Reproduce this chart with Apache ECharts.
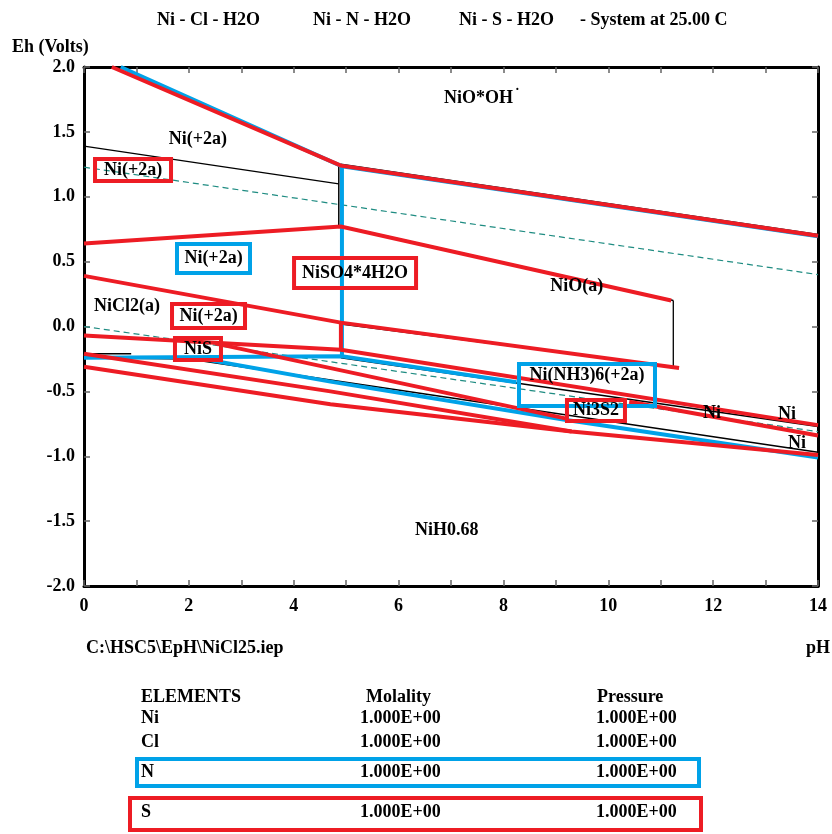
<!DOCTYPE html>
<html><head><meta charset="utf-8">
<script src="https://cdn.jsdelivr.net/npm/echarts/dist/echarts.min.js"></script>
<style>html,body{margin:0;padding:0;background:#fff}#c{width:832px;height:834px}</style>
</head><body><div id="c"></div>
<script>
// ---------- data (pH, Eh in volts) ----------
const xTickValues = [0, 2, 4, 6, 8, 10, 12, 14];
const yTickValues = [-2.0, -1.5, -1.0, -0.5, 0.0, 0.5, 1.0, 1.5, 2.0];

// Ni-S-H2O boundaries (red)
const sLine1 = [[0.53, 2.0], [4.9, 1.24], [14, 0.70]];
const sLine2 = [[0, 0.64], [4.9, 0.77], [11.2, 0.20]];
const sLine3 = [[0, 0.39], [4.9, 0.03], [11.35, -0.32]];
const sLine4 = [[4.9, 0.03], [4.9, -0.18]];
const sLine5 = [[0, -0.07], [4.9, -0.18], [14, -0.76]];
const sLine6 = [[2.5, -0.13], [9.2, -0.71]];
const sLine7 = [[10.4, -0.58], [14, -0.84]];
const sLine8 = [[0, -0.21], [4.7, -0.50], [9.3, -0.81], [14, -0.99]];
const sLine9 = [[0, -0.31], [4.7, -0.60], [9.3, -0.81]];

// Ni-N-H2O boundaries (blue)
const nLine1 = [[0.7, 2.0], [4.92, 1.235], [14, 0.695]];
const nLine2 = [[4.92, 1.235], [4.92, -0.23]];
const nLine3 = [[0, -0.24], [4.92, -0.23], [8.25, -0.43]];
const nLine4 = [[2.2, -0.245], [4.7, -0.425], [9.2, -0.72], [14, -1.01]];

// Ni-Cl-H2O boundaries (black)
const clLine1 = [[0, 1.39], [4.86, 1.10]];
const clLine2 = [[4.86, 1.24], [4.86, 0.77]];
const clLine3 = [[4.9, 1.25], [14, 0.71]];
const clLine4 = [[4.9, 0.775], [11.24, 0.20]];
const clLine5 = [[11.24, 0.20], [11.24, -0.31]];
const clLine6 = [[4.9, 0.02], [11.24, -0.31]];
const clLine7 = [[0, -0.21], [0.9, -0.21]];
const clLine8 = [[0, -0.24], [2.0, -0.25], [14, -0.97]];
const clLine9 = [[4.9, -0.24], [14, -0.77]];

// water stability lines (dashed)
const waterUpper = [[0, 1.228], [14, 0.40]];
const waterLower = [[0, 0.0], [14, -0.81]];

// region labels: [text, pH, Eh, frame]
const regionLabels = [
  ['NiO*OH{s|˙}', 7.59, 1.76, 'none'],
  ['Ni(+2a)', 2.17, 1.445, 'none'],
  ['Ni(+2a)', 0.935, 1.206, 'red'],
  ['Ni(+2a)', 2.47, 0.524, 'blue'],
  ['NiSO4*4H2O', 5.17, 0.412, 'red'],
  ['NiO(a)', 9.40, 0.312, 'none'],
  ['NiCl2(a)', 0.82, 0.158, 'none'],
  ['Ni(+2a)', 2.375, 0.081, 'red'],
  ['NiS', 2.174, -0.173, 'red'],
  ['Ni(NH3)6(+2a)', 9.594, -0.451, 'blue'],
  ['Ni3S2', 9.765, -0.647, 'red'],
  ['Ni', 11.98, -0.667, 'none'],
  ['Ni', 13.41, -0.674, 'none'],
  ['Ni', 13.60, -0.898, 'none'],
  ['NiH0.68', 6.92, -1.568, 'none']
];
const frameSizes = {
  'Ni(+2a)#2': [80, 26], 'Ni(+2a)#3': [77, 33], 'NiSO4*4H2O#4': [126, 34],
  'Ni(+2a)#7': [77, 28], 'NiS#8': [50, 26], 'Ni(NH3)6(+2a)#9': [140, 46], 'Ni3S2#10': [62, 25]
};

// title strings and table
const titleParts = ['Ni - Cl - H2O', 'Ni - N - H2O', 'Ni - S - H2O', '- System at 25.00 C'];
const yAxisTitle = 'Eh (Volts)';
const fileName = 'C:\\HSC5\\EpH\\NiCl25.iep';
const xAxisTitle = 'pH';
const tableHeader = ['ELEMENTS', 'Molality', 'Pressure'];
const tableElements = ['Ni', 'Cl', 'N', 'S'];
const tableMolality = ['1.000E+00', '1.000E+00', '1.000E+00', '1.000E+00'];
const tablePressure = ['1.000E+00', '1.000E+00', '1.000E+00', '1.000E+00'];

// ---------- styles ----------
const RED = '#ed1c24', BLUE = '#00a2e8', BLACK = '#000000', GREEN = '#1f8c82';
const FONT = '"Liberation Serif", "DejaVu Serif", serif';
const FS = 18;

function ln(data, color, width, dashed, z) {
  return {
    type: 'line', data: data, symbol: 'none', silent: true, animation: false, z: z,
    lineStyle: { color: color, width: width, type: dashed ? [6, 4] : 'solid', cap: 'butt', join: 'miter', opacity: 1 }
  };
}

const series = [
  ln(waterUpper, GREEN, 1.2, true, 2), ln(waterLower, GREEN, 1.2, true, 2),
  ln(clLine1, BLACK, 1.3, false, 3), ln(clLine2, BLACK, 1.5, false, 3), ln(clLine3, BLACK, 1.5, false, 3),
  ln(clLine4, BLACK, 1.5, false, 3), ln(clLine5, BLACK, 1.3, false, 3), ln(clLine6, BLACK, 1.5, false, 3),
  ln(clLine7, BLACK, 1.5, false, 3), ln(clLine8, BLACK, 1.5, false, 3), ln(clLine9, BLACK, 1.5, false, 3),
  ln(nLine1, BLUE, 4, false, 4), ln(nLine2, BLUE, 4, false, 4), ln(nLine3, BLUE, 4, false, 4), ln(nLine4, BLUE, 4, false, 4),
  ln(sLine1, RED, 4, false, 5), ln(sLine2, RED, 4, false, 5), ln(sLine3, RED, 4, false, 5), ln(sLine4, RED, 4, false, 5),
  ln(sLine5, RED, 4, false, 5), ln(sLine6, RED, 4, false, 5), ln(sLine7, RED, 4, false, 5), ln(sLine8, RED, 4, false, 5),
  ln(sLine9, RED, 4, false, 5)
];

const labelData = regionLabels.map((r, i) => {
  const key = r[0] + '#' + i;
  const lab = {
    show: true, position: 'inside', formatter: r[0], opacity: 1,
    color: '#000', fontFamily: FONT, fontWeight: 'bold', fontSize: FS,
    textBorderWidth: 0, textBorderColor: 'transparent',
    rich: { s: { fontSize: 14, verticalAlign: 'top', fontWeight: 'bold', fontFamily: FONT, color: '#000', textBorderWidth: 0, padding: [0, 0, 8, 2] } }
  };
  if (r[3] !== 'none') {
    const sz = frameSizes[key] || [80, 28];
    lab.borderColor = r[3] === 'red' ? RED : BLUE;
    lab.borderWidth = 4;
    lab.width = sz[0] - 4;
    lab.height = sz[1] - 4;
    lab.align = 'center';
    lab.verticalAlign = 'middle';
    lab.lineHeight = sz[1] - 4;
    if (r[0] === 'Ni(NH3)6(+2a)') { lab.height = 22; lab.lineHeight = 22; lab.padding = [0, 0, 20, 0]; }
  }
  return { value: [r[1], r[2]], label: lab, itemStyle: { opacity: 1 } };
});
series.push({ type: 'scatter', data: labelData, symbolSize: 0, silent: true, z: 10, animation: false,
  itemStyle: { color: '#ffffff', opacity: 1 } });

const gridL = 84, gridT = 67, gridW = 734, gridH = 519;

const graphics = [];
const titleX = [157, 313, 459, 580];
const txt = (t, x, y) => ({ type: 'text', left: x, top: y, style: { text: t, font: 'bold ' + FS + 'px ' + FONT, fill: '#000' } });
titleParts.forEach((t, i) => graphics.push(txt(t, titleX[i], 11)));
graphics.push(txt(yAxisTitle, 12, 38));
graphics.push(txt(fileName, 86, 639));
graphics.push(txt(xAxisTitle, 806, 639));
const colX = [141, 360, 596];
const headX = [141, 366, 597];
tableHeader.forEach((t, i) => graphics.push(txt(t, headX[i], 688)));
const rowY = [709, 733, 763, 803];
tableElements.forEach((e, i) => {
  graphics.push(txt(e, colX[0], rowY[i]));
  graphics.push(txt(tableMolality[i], colX[1], rowY[i]));
  graphics.push(txt(tablePressure[i], colX[2], rowY[i]));
});
graphics.push({ type: 'rect', shape: { x: 137, y: 759, width: 562, height: 27 }, style: { fill: 'none', stroke: BLUE, lineWidth: 4 } });
graphics.push({ type: 'rect', shape: { x: 130, y: 798, width: 571, height: 32 }, style: { fill: 'none', stroke: RED, lineWidth: 4 } });

const lineStyleAxis = { show: true, onZero: false, lineStyle: { color: '#000', width: 3 } };
const tickStyle = { show: true, inside: true, length: 6, lineStyle: { color: '#666', width: 1.5 } };
const axisCommon = {
  type: 'value', min: 0, max: 14, interval: 1,
  axisLine: lineStyleAxis, axisTick: tickStyle, splitLine: { show: false }
};
const yCommon = {
  type: 'value', min: -2, max: 2, interval: 0.5,
  axisLine: lineStyleAxis, axisTick: tickStyle, splitLine: { show: false }
};

const option = {
  backgroundColor: '#fff',
  animation: false,
  grid: { left: gridL, top: gridT, width: gridW, height: gridH, containLabel: false },
  xAxis: [
    Object.assign({}, axisCommon, { position: 'bottom',
      axisLabel: { show: true, interval: 0, margin: 11, color: '#000', fontFamily: FONT, fontWeight: 'bold', fontSize: FS,
        formatter: v => (xTickValues.indexOf(v) >= 0 ? String(v) : '') } }),
    Object.assign({}, axisCommon, { position: 'top', axisLabel: { show: false } })
  ],
  yAxis: [
    Object.assign({}, yCommon, { position: 'left',
      axisLabel: { show: true, margin: 9, color: '#000', fontFamily: FONT, fontWeight: 'bold', fontSize: FS,
        formatter: v => (yTickValues.indexOf(v) >= 0 ? v.toFixed(1) : '') } }),
    Object.assign({}, yCommon, { position: 'right', axisLabel: { show: false } })
  ],
  series: series,
  graphic: graphics
};
const chart = echarts.init(document.getElementById('c'), null, { renderer: 'canvas' });
chart.setOption(option);
</script></body></html>
